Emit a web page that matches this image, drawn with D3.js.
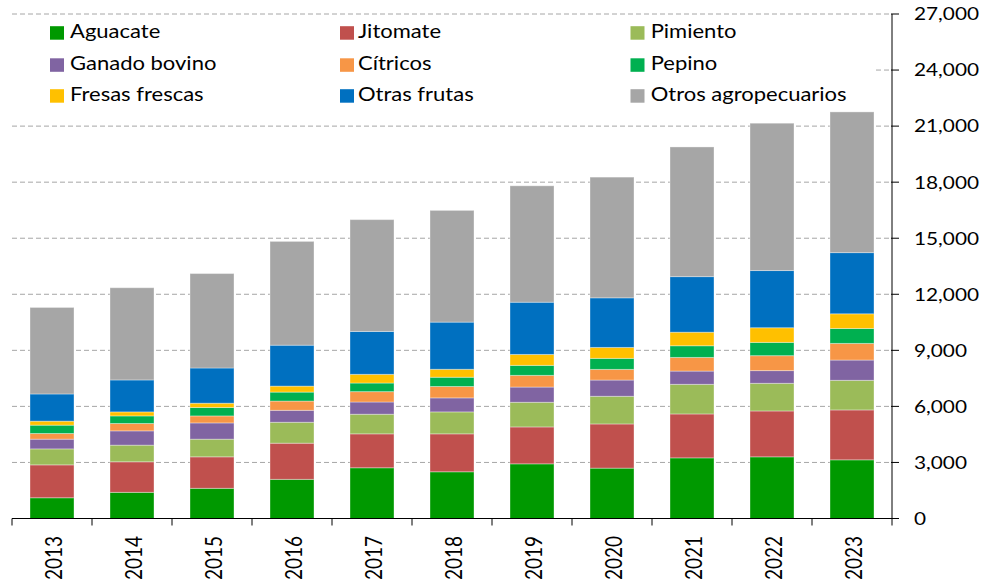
<!DOCTYPE html>
<html><head><meta charset="utf-8">
<script src="https://cdn.jsdelivr.net/npm/d3@7"></script>
<style>body{margin:0;background:#fff}svg{display:block}text{font-family:Lato,"Open Sans",sans-serif}</style>
</head><body><svg id="c" width="984" height="586"></svg>
<script>
const years = ["2013","2014","2015","2016","2017","2018","2019","2020","2021","2022","2023"];
const seriesNames = ["Aguacate","Jitomate","Pimiento","Ganado bovino","Cítricos","Pepino","Fresas frescas","Otras frutas","Otros agropecuarios"];
const colors = ["#009900","#C0504D","#9BBB59","#8064A2","#F79646","#00B050","#FFC000","#0070C0","#A6A6A6"];
const aguacate = [1110,1400,1615,2095,2715,2500,2925,2695,3245,3300,3140];
const jitomate = [1760,1635,1685,1935,1815,2030,1975,2365,2350,2455,2670];
const pimiento = [855,890,945,1120,1050,1175,1320,1480,1585,1480,1585];
const ganado = [520,765,870,640,655,750,815,870,710,680,1085];
const citricos = [305,395,375,495,555,610,625,570,730,800,890];
const pepino = [445,405,450,480,460,495,535,590,625,710,800];
const fresas = [215,215,230,320,465,425,585,585,725,785,785];
const otrasFrutas = [1455,1710,1885,2190,2295,2525,2795,2655,2975,3060,3275];
const otros = [4630,4935,5055,5555,5985,5980,6230,6460,6940,7885,7530];
const yTicks = [0,3000,6000,9000,12000,15000,18000,21000,24000,27000];

const allSeries = [aguacate,jitomate,pimiento,ganado,citricos,pepino,fresas,otrasFrutas,otros];
const rows = years.map((y,i)=>{const r={year:y}; seriesNames.forEach((n,k)=>r[n]=allSeries[k][i]); return r;});
const stack = d3.stack().keys(seriesNames)(rows);

const svg = d3.select("#c");
const x = d3.scaleBand().domain(years).range([12,892]).paddingInner(0.45).paddingOuter(0.225);
const y = d3.scaleLinear().domain([0,27000]).range([518.5,14]);
const fmt = d3.format(",");

// gridlines
svg.append("g").selectAll("line").data(yTicks.filter(d=>d>0)).join("line")
  .attr("x1",12).attr("x2",892).attr("y1",d=>y(d)).attr("y2",d=>y(d))
  .attr("stroke","#a6a6a6").attr("stroke-width",1).attr("stroke-dasharray","5,3");

// bars
svg.append("g").selectAll("g").data(stack).join("g").attr("fill",(d,i)=>colors[i])
  .selectAll("rect").data(d=>d).join("rect")
  .attr("x",d=>x(d.data.year)).attr("width",x.bandwidth())
  .attr("y",d=>y(d[1])).attr("height",d=>y(d[0])-y(d[1]))
  .attr("stroke","#ffffff").attr("stroke-opacity",0.35).attr("stroke-width",1);

// legend
svg.append("rect").attr("x",8).attr("y",17).attr("width",868).attr("height",92).attr("fill","#fff");
const legSq=[50,340,630.5], legTx=[70,358,650.7], legBase=[37.7,69.8,100.7];
const legG = svg.append("g");
legG.selectAll("rect").data(seriesNames).join("rect")
  .attr("x",(d,i)=>legSq[i%3]).attr("y",(d,i)=>legBase[Math.floor(i/3)]-11.5)
  .attr("width",14).attr("height",13.5).attr("fill",(d,i)=>colors[i]);
const legT = legG.selectAll("text").data(seriesNames).join("text")
  .attr("font-size",18.6).attr("fill","#000").text(d=>d);
const refLen = legT.filter(d=>d==="Otros agropecuarios").node().getComputedTextLength();
const lsx = 196/refLen;
legT.attr("transform",(d,i)=>`translate(${legTx[i%3]},${legBase[Math.floor(i/3)]}) scale(${lsx},1)`);

// y axis right
const yAx = svg.append("g");
yAx.append("line").attr("x1",892).attr("x2",892).attr("y1",y(27000)).attr("y2",y(0)).attr("stroke","#000");
yAx.selectAll("line.t").data(yTicks).join("line").attr("class","t")
  .attr("x1",891).attr("x2",899).attr("y1",d=>y(d)).attr("y2",d=>y(d)).attr("stroke","#000");
const yT = yAx.selectAll("text").data(yTicks).join("text")
  .attr("font-size",17.7).attr("fill","#000").attr("dy","0.36em").text(d=>fmt(d));
const yRef = yT.filter(d=>d===27000).node().getComputedTextLength();
const ysx = 65/yRef;
yT.attr("transform",d=>`translate(914,${y(d)}) scale(${ysx},1)`);

// x axis
const xAx = svg.append("g");
xAx.append("line").attr("x1",12).attr("x2",892).attr("y1",518.5).attr("y2",518.5).attr("stroke","#000");
xAx.selectAll("line.t").data(d3.range(years.length+1)).join("line").attr("class","t")
  .attr("x1",i=>12+i*x.step()).attr("x2",i=>12+i*x.step()).attr("y1",518.5).attr("y2",525.5).attr("stroke","#000");
const xT = xAx.selectAll("text").data(years).join("text")
  .attr("text-anchor","end").attr("font-size",18).attr("fill","#000").text(d=>d);
const xRef = xT.node().getComputedTextLength();
const xsx = 44/xRef, xsy = 16/(0.7165*18);
xT.attr("transform",d=>`translate(${x(d)+x.bandwidth()/2+1.5},536) rotate(-90) scale(${xsx},${xsy})`)
  .attr("dy","0.36em");
</script></body></html>
